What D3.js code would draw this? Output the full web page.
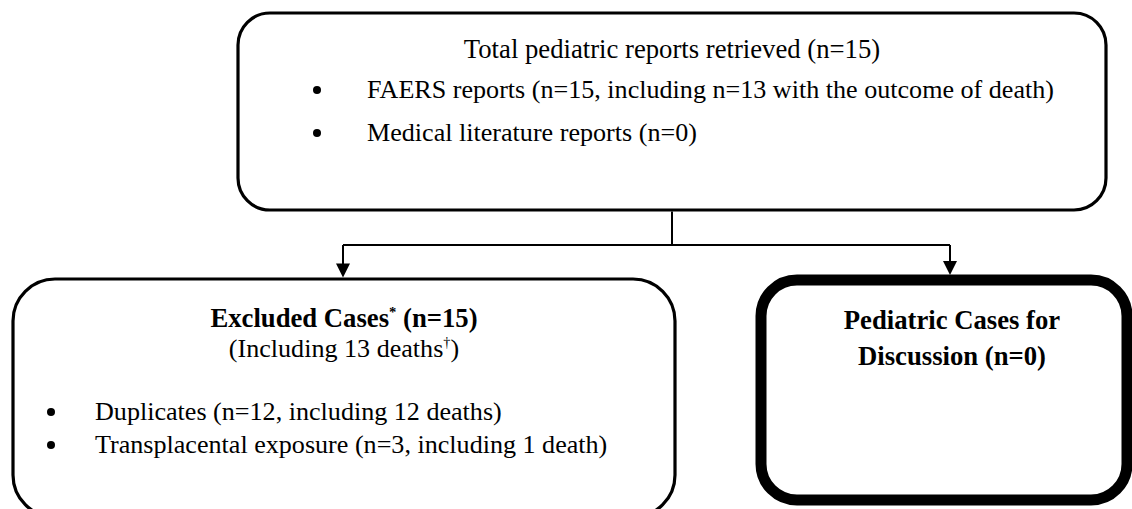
<!DOCTYPE html>
<html>
<head>
<meta charset="utf-8">
<script src="https://cdn.jsdelivr.net/npm/d3@7"></script>
<style>
  html, body { margin: 0; padding: 0; background: #fff; }
  svg { display: block; }
  text { font-family: "Liberation Serif", "Times New Roman", serif; fill: #000; }
</style>
</head>
<body>
<svg id="chart" width="1132" height="509"></svg>
<script>
// ---- content ----
const topTitle = ["Total pediatric reports retrieved (n=15)"];
const topBullets = [
  "FAERS reports (n=15, including n=13 with the outcome of death)",
  "Medical literature reports (n=0)"
];
const excludedTitle = [["Excluded Cases", "*", " (n=15)"]];
const excludedSub = [["(Including 13 deaths", "\u2020", ")"]];
const excludedBullets = [
  "Duplicates (n=12, including 12 deaths)",
  "Transplacental exposure (n=3, including 1 death)"
];
const includedTitle = ["Pediatric Cases for", "Discussion (n=0)"];

const svg = d3.select("#chart");
const FS = 26.1;     // body / bullet text
const FT = 26.7;     // titles

// boxes
const boxes = [
  {x: 238, y: 13, w: 868, h: 197, r: 32, sw: 3.2},
  {x: 13, y: 279, w: 662, h: 238, r: 42, sw: 3.2},
  {x: 761, y: 280, w: 366, h: 220, r: 36, sw: 11}
];
svg.selectAll("rect.box").data(boxes).join("rect")
  .attr("class", "box")
  .attr("x", d => d.x).attr("y", d => d.y)
  .attr("width", d => d.w).attr("height", d => d.h)
  .attr("rx", d => d.r).attr("ry", d => d.r)
  .attr("fill", "none").attr("stroke", "#000")
  .attr("stroke-width", d => d.sw);

// connectors
const line = d3.line();
svg.append("path").attr("d", line([[672, 211.5], [672, 245]]))
  .attr("stroke", "#000").attr("stroke-width", 2).attr("fill", "none");
svg.append("path").attr("d", line([[343, 245], [950, 245]]))
  .attr("stroke", "#000").attr("stroke-width", 2).attr("fill", "none");
const arrows = [{x: 343, y0: 245, y1: 277.5}, {x: 950, y0: 245, y1: 275}];
arrows.forEach(a => {
  svg.append("path").attr("d", line([[a.x, a.y0], [a.x, a.y1 - 12]]))
    .attr("stroke", "#000").attr("stroke-width", 2).attr("fill", "none");
  svg.append("path").attr("d", line([[a.x - 7, a.y1 - 14], [a.x + 7, a.y1 - 14], [a.x, a.y1]]) + "Z")
    .attr("fill", "#000");
});

// top box text
svg.selectAll("text.tt").data(topTitle).join("text")
  .attr("class", "tt").attr("x", 672).attr("y", 58)
  .attr("text-anchor", "middle").attr("font-size", FT).text(d => d);
const tb = svg.selectAll("g.tb").data(topBullets).join("g")
  .attr("class", "tb")
  .attr("transform", (d, i) => `translate(0, ${98 + i * 43})`);
tb.append("circle").attr("cx", 317).attr("cy", -8).attr("r", 4).attr("fill", "#000");
tb.append("text").attr("x", 367).attr("y", 0).attr("font-size", FS).text(d => d);

// excluded box
function supText(sel, parts, weight, fs) {
  sel.append("tspan").attr("font-weight", weight).text(parts[0]);
  sel.append("tspan").attr("font-weight", weight).attr("font-size", fs * 0.55)
    .attr("dy", -10).text(parts[1]);
  sel.append("tspan").attr("font-weight", weight).attr("dy", 10).text(parts[2]);
}
svg.selectAll("text.et").data(excludedTitle).join("text")
  .attr("class", "et").attr("x", 344).attr("y", 327)
  .attr("text-anchor", "middle").attr("font-size", FT)
  .each(function(d) { supText(d3.select(this), d, "bold", FT); });
svg.selectAll("text.es").data(excludedSub).join("text")
  .attr("class", "es").attr("x", 344).attr("y", 357)
  .attr("text-anchor", "middle").attr("font-size", FS)
  .each(function(d) { supText(d3.select(this), d, "normal", FS); });
const eb = svg.selectAll("g.eb").data(excludedBullets).join("g")
  .attr("class", "eb")
  .attr("transform", (d, i) => `translate(0, ${420 + i * 33})`);
eb.append("circle").attr("cx", 51).attr("cy", -8).attr("r", 4).attr("fill", "#000");
eb.append("text").attr("x", 95).attr("y", 0).attr("font-size", FS).text(d => d);

// included box
svg.selectAll("text.it").data(includedTitle).join("text")
  .attr("class", "it").attr("x", 952).attr("y", (d, i) => 329 + i * 36)
  .attr("text-anchor", "middle").attr("font-size", FT).attr("font-weight", "bold")
  .text(d => d);
</script>
</body>
</html>
